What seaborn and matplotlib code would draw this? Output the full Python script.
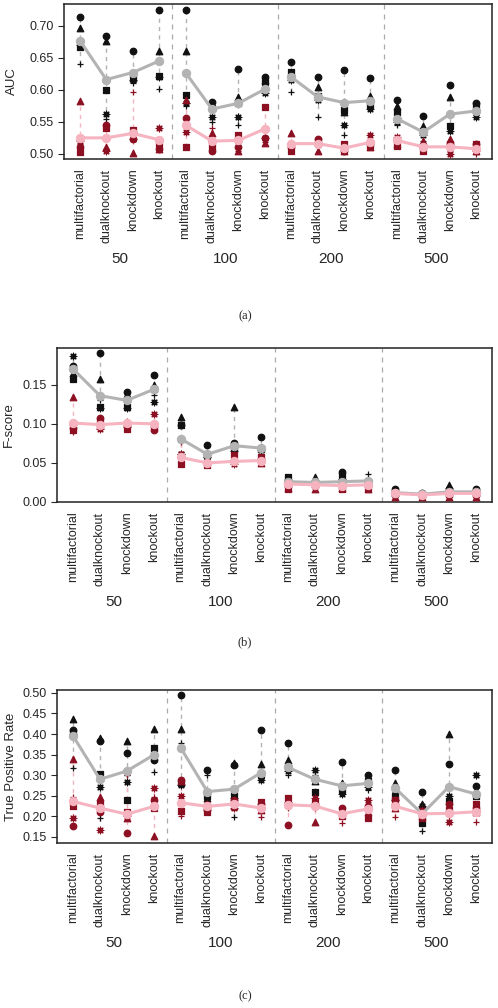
import numpy as np
import pandas as pd
import matplotlib
matplotlib.use("Agg")
import matplotlib.pyplot as plt
import seaborn as sns

sizes = ["50", "100", "200", "500"]
experiments = ["multifactorial", "dualknockout", "knockdown", "knockout"]

# AUC, black methods (one value per column, 16 columns)
auc_b_circle = [0.714, 0.684, 0.661, 0.724, 0.724, 0.581, 0.632, 0.620, 0.643, 0.620, 0.631, 0.618, 0.584, 0.559, 0.608, 0.580]
auc_b_tri = [0.696, 0.677, 0.618, 0.660, 0.660, 0.575, 0.589, 0.615, 0.628, 0.605, 0.565, 0.590, 0.575, 0.543, 0.589, 0.575]
auc_b_square = [0.667, 0.599, 0.620, 0.622, 0.592, 0.572, 0.580, 0.612, 0.628, 0.590, 0.569, 0.574, 0.566, 0.535, 0.544, 0.576]
auc_b_aster = [0.670, 0.563, 0.615, 0.620, 0.579, 0.558, 0.557, 0.595, 0.615, 0.584, 0.545, 0.570, 0.550, 0.530, 0.536, 0.557]
auc_b_plus = [0.640, 0.555, 0.610, 0.601, 0.575, 0.550, 0.545, 0.598, 0.597, 0.557, 0.530, 0.575, 0.545, 0.520, 0.540, 0.560]
auc_b_mean = [0.677, 0.616, 0.627, 0.645, 0.627, 0.570, 0.579, 0.601, 0.620, 0.589, 0.580, 0.583, 0.555, 0.534, 0.562, 0.567]
# AUC, red methods
auc_r_circle = [0.510, 0.545, 0.524, 0.507, 0.556, 0.504, 0.510, 0.525, 0.510, 0.524, 0.505, 0.515, 0.520, 0.510, 0.515, 0.516]
auc_r_tri = [0.583, 0.511, 0.501, 0.507, 0.584, 0.532, 0.504, 0.517, 0.532, 0.505, 0.505, 0.510, 0.515, 0.520, 0.524, 0.505]
auc_r_square = [0.503, 0.540, 0.537, 0.514, 0.511, 0.510, 0.530, 0.573, 0.505, 0.520, 0.515, 0.512, 0.512, 0.504, 0.515, 0.516]
auc_r_aster = [0.520, 0.504, 0.524, 0.540, 0.534, 0.520, 0.520, 0.525, 0.515, 0.515, 0.510, 0.530, 0.527, 0.510, 0.500, 0.505]
auc_r_plus = [0.515, 0.545, 0.597, 0.510, 0.540, 0.540, 0.505, 0.518, 0.513, 0.510, 0.505, 0.520, 0.520, 0.515, 0.505, 0.500]
auc_r_mean = [0.525, 0.525, 0.532, 0.522, 0.545, 0.520, 0.521, 0.539, 0.516, 0.516, 0.509, 0.518, 0.521, 0.511, 0.511, 0.508]

# F-score
fs_b_circle = [0.174, 0.190, 0.141, 0.163, 0.099, 0.073, 0.075, 0.083, 0.028, 0.025, 0.038, 0.027, 0.016, 0.012, 0.017, 0.016]
fs_b_tri = [0.165, 0.157, 0.138, 0.150, 0.109, 0.062, 0.121, 0.070, 0.030, 0.032, 0.030, 0.028, 0.013, 0.011, 0.022, 0.014]
fs_b_square = [0.157, 0.122, 0.122, 0.145, 0.098, 0.060, 0.068, 0.068, 0.032, 0.024, 0.033, 0.026, 0.012, 0.010, 0.014, 0.013]
fs_b_aster = [0.187, 0.120, 0.120, 0.128, 0.062, 0.058, 0.065, 0.066, 0.025, 0.023, 0.030, 0.025, 0.011, 0.009, 0.012, 0.012]
fs_b_plus = [0.168, 0.130, 0.126, 0.137, 0.060, 0.055, 0.062, 0.065, 0.022, 0.022, 0.024, 0.036, 0.010, 0.009, 0.011, 0.012]
fs_b_mean = [0.170, 0.136, 0.130, 0.144, 0.081, 0.061, 0.072, 0.069, 0.026, 0.025, 0.026, 0.027, 0.012, 0.010, 0.013, 0.013]
fs_r_circle = [0.095, 0.107, 0.097, 0.092, 0.057, 0.050, 0.052, 0.055, 0.020, 0.021, 0.020, 0.020, 0.009, 0.008, 0.009, 0.009]
fs_r_tri = [0.134, 0.099, 0.100, 0.100, 0.062, 0.052, 0.055, 0.050, 0.018, 0.017, 0.018, 0.016, 0.007, 0.006, 0.007, 0.007]
fs_r_square = [0.092, 0.104, 0.093, 0.098, 0.048, 0.047, 0.060, 0.058, 0.016, 0.022, 0.016, 0.018, 0.011, 0.009, 0.010, 0.010]
fs_r_aster = [0.098, 0.094, 0.100, 0.112, 0.062, 0.052, 0.048, 0.052, 0.022, 0.020, 0.022, 0.022, 0.012, 0.010, 0.011, 0.011]
fs_r_plus = [0.090, 0.100, 0.104, 0.095, 0.077, 0.048, 0.050, 0.058, 0.024, 0.024, 0.024, 0.024, 0.010, 0.008, 0.012, 0.008]
fs_r_mean = [0.101, 0.099, 0.101, 0.100, 0.057, 0.050, 0.052, 0.053, 0.023, 0.022, 0.021, 0.022, 0.011, 0.009, 0.011, 0.011]

# True positive rate
tp_b_circle = [0.410, 0.384, 0.355, 0.337, 0.495, 0.313, 0.325, 0.410, 0.379, 0.290, 0.333, 0.301, 0.313, 0.260, 0.327, 0.274]
tp_b_tri = [0.436, 0.390, 0.383, 0.412, 0.412, 0.245, 0.330, 0.327, 0.337, 0.285, 0.280, 0.290, 0.280, 0.230, 0.400, 0.262]
tp_b_square = [0.405, 0.302, 0.240, 0.365, 0.280, 0.250, 0.252, 0.300, 0.320, 0.260, 0.265, 0.285, 0.250, 0.183, 0.236, 0.250]
tp_b_aster = [0.400, 0.270, 0.284, 0.350, 0.275, 0.260, 0.245, 0.288, 0.310, 0.313, 0.255, 0.270, 0.240, 0.225, 0.250, 0.301]
tp_b_plus = [0.318, 0.195, 0.300, 0.307, 0.379, 0.300, 0.199, 0.290, 0.300, 0.300, 0.260, 0.265, 0.260, 0.163, 0.245, 0.250]
tp_b_mean = [0.395, 0.290, 0.310, 0.349, 0.367, 0.260, 0.266, 0.306, 0.319, 0.290, 0.274, 0.280, 0.268, 0.206, 0.272, 0.254]
tp_r_circle = [0.177, 0.210, 0.159, 0.240, 0.288, 0.215, 0.240, 0.230, 0.179, 0.230, 0.220, 0.225, 0.240, 0.210, 0.230, 0.220]
tp_r_tri = [0.339, 0.248, 0.195, 0.151, 0.285, 0.225, 0.225, 0.215, 0.240, 0.187, 0.210, 0.210, 0.220, 0.200, 0.220, 0.210]
tp_r_square = [0.224, 0.232, 0.210, 0.220, 0.213, 0.210, 0.235, 0.235, 0.245, 0.235, 0.200, 0.195, 0.240, 0.195, 0.215, 0.230]
tp_r_aster = [0.197, 0.167, 0.200, 0.268, 0.250, 0.230, 0.220, 0.220, 0.235, 0.245, 0.205, 0.240, 0.230, 0.215, 0.185, 0.215]
tp_r_plus = [0.248, 0.240, 0.300, 0.248, 0.200, 0.220, 0.220, 0.199, 0.220, 0.220, 0.184, 0.220, 0.199, 0.205, 0.200, 0.185]
tp_r_mean = [0.236, 0.220, 0.205, 0.224, 0.233, 0.224, 0.230, 0.220, 0.228, 0.225, 0.206, 0.218, 0.224, 0.206, 0.207, 0.211]

markers = ["o", "^", "s", (8, 2, 0), "+"]
BLACK = "#111111"
DARKRED = "#8c1022"
GRAY = "#b3b3b3"
PINK = "#f6b3c0"

sns.set_style("ticks")
plt.rcParams['font.family'] = ['Liberation Sans', 'DejaVu Sans']


def draw_panel(ax, black, red, black_mean, red_mean, ylabel, yticks, ylim, label_x):
    pos = np.arange(1, 17)
    bl = np.array(black)
    rd = np.array(red)
    ax.vlines(pos, bl.min(axis=0), bl.max(axis=0), color=GRAY, ls=(0, (3, 3)), lw=1, zorder=1)
    ax.vlines(pos, rd.min(axis=0), rd.max(axis=0), color=PINK, ls=(0, (3, 3)), lw=1, zorder=1)
    for vals, m in zip(black, markers):
        sns.scatterplot(x=pos, y=vals, marker=m, color=BLACK, edgecolor=BLACK,
                        s=22, linewidth=0.9, ax=ax, zorder=3, legend=False)
    for vals, m in zip(red, markers):
        sns.scatterplot(x=pos, y=vals, marker=m, color=DARKRED, edgecolor=DARKRED,
                        s=22, linewidth=0.9, ax=ax, zorder=3, legend=False)
    grp = np.repeat(sizes, 4)
    df = pd.DataFrame({"pos": pos, "group": grp, "bm": black_mean, "rm": red_mean})
    sns.lineplot(data=df, x="pos", y="bm", units="group", estimator=None, color=GRAY,
                 lw=2.2, marker="o", markersize=6, markeredgecolor=GRAY, ax=ax, zorder=4)
    sns.lineplot(data=df, x="pos", y="rm", units="group", estimator=None, color=PINK,
                 lw=2.2, marker="o", markersize=6, markeredgecolor=PINK, ax=ax, zorder=4)
    for b in [4.5, 8.5, 12.5]:
        ax.axvline(b, color="#aaaaaa", ls=(0, (4, 4)), lw=0.9, zorder=0)
    ax.set_xlim(0.4, 16.6)
    ax.set_ylim(*ylim)
    ax.set_yticks(yticks)
    ax.set_yticklabels([f"{t:.2f}" for t in yticks], fontsize=9)
    ax.set_xticks(pos)
    ax.set_xticklabels(experiments * 4, rotation=90, fontsize=9)
    ax.tick_params(axis="x", length=0, pad=7)
    ax.tick_params(axis="y", length=4, width=0.8)
    ax.set_xlabel("")
    ax.set_ylabel(ylabel, fontsize=9.5)
    ax.yaxis.set_label_coords(label_x, 0.5)
    for sp in ax.spines.values():
        sp.set_linewidth(1.1)
        sp.set_color("#222222")
    for j, size in enumerate(sizes):
        ax.annotate(size, xy=(4 * j + 2.5, 0), xycoords=ax.get_xaxis_transform(),
                    xytext=(0, -72), textcoords="offset points", ha="center",
                    va="center", fontsize=11)


fig = plt.figure(figsize=(4.98, 10.08), dpi=100)
ax1 = fig.add_axes([64 / 498, 1 - 159 / 1008, 428 / 498, 155 / 1008])
ax2 = fig.add_axes([57 / 498, 1 - 502 / 1008, 435 / 498, 154 / 1008])
ax3 = fig.add_axes([57 / 498, 1 - 843 / 1008, 435 / 498, 153 / 1008])

draw_panel(ax1,
           [auc_b_circle, auc_b_tri, auc_b_square, auc_b_aster, auc_b_plus],
           [auc_r_circle, auc_r_tri, auc_r_square, auc_r_aster, auc_r_plus],
           auc_b_mean, auc_r_mean, "AUC",
           [0.50, 0.55, 0.60, 0.65, 0.70], (0.492, 0.734), -0.107)
draw_panel(ax2,
           [fs_b_circle, fs_b_tri, fs_b_square, fs_b_aster, fs_b_plus],
           [fs_r_circle, fs_r_tri, fs_r_square, fs_r_aster, fs_r_plus],
           fs_b_mean, fs_r_mean, "F-score",
           [0.00, 0.05, 0.10, 0.15], (0.0, 0.197), -0.097)
draw_panel(ax3,
           [tp_b_circle, tp_b_tri, tp_b_square, tp_b_aster, tp_b_plus],
           [tp_r_circle, tp_r_tri, tp_r_square, tp_r_aster, tp_r_plus],
           tp_b_mean, tp_r_mean, "True Positive Rate",
           [0.15, 0.20, 0.25, 0.30, 0.35, 0.40, 0.45, 0.50], (0.135, 0.507), -0.092)

for cap, ypix in [("(a)", 316), ("(b)", 642), ("(c)", 996)]:
    fig.text(245 / 498, 1 - ypix / 1008, cap, ha="center", va="center",
             fontsize=9, family=["Liberation Serif", "DejaVu Serif"])

fig.savefig("out.png", dpi=100)
